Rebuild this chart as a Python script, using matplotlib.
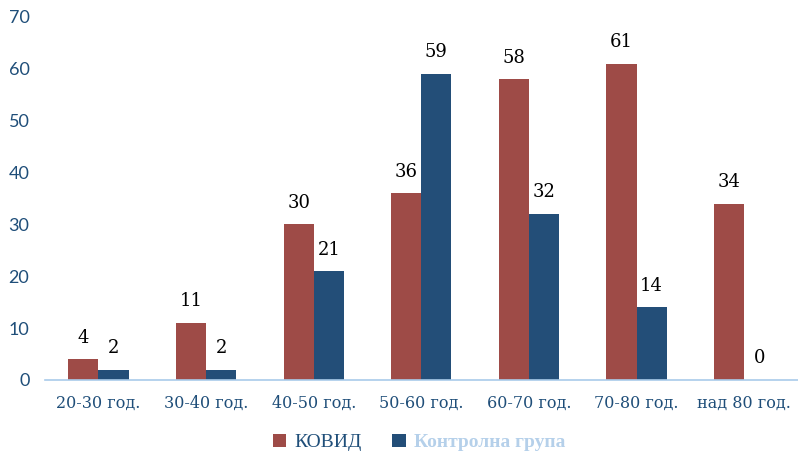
import matplotlib.pyplot as plt
import numpy as np

categories = ['20-30 год.', '30-40 год.', '40-50 год.', '50-60 год.',
              '60-70 год.', '70-80 год.', 'над 80 год.']
covid = [4, 11, 30, 36, 58, 61, 34]
control = [2, 2, 21, 59, 32, 14, 0]
series_names = ['КОВИД', 'Контролна група']

red = '#9E4B47'
blue = '#234E78'
tick_col = '#1F4E79'

fig = plt.figure(figsize=(7.98, 4.55), dpi=100)
ax = fig.add_axes([0.056, 0.165, 0.944, 0.798])

x = np.arange(len(categories))
w = 0.28
b1 = ax.bar(x - w / 2, covid, w, color=red, label=series_names[0])
b2 = ax.bar(x + w / 2, control, w, color=blue, label=series_names[1])

for bars, vals in [(b1, covid), (b2, control)]:
    for r, v in zip(bars, vals):
        ax.text(r.get_x() + r.get_width() / 2, v + 2.4, str(v), ha='center',
                va='bottom', fontsize=13, family='DejaVu Serif', color='black')

ax.set_xlim(-0.5, len(categories) - 0.5)
ax.set_ylim(0, 70)
ax.set_yticks(range(0, 71, 10))
ax.set_xticks(x)
ax.set_xticklabels(categories, family='DejaVu Serif', fontsize=11.5, color=tick_col)
for t in ax.get_yticklabels():
    t.set_family('Lato')
ax.tick_params(axis='y', labelsize=13, colors=tick_col, length=0, pad=11)
ax.tick_params(axis='x', length=0, pad=11)
for s in ['top', 'right', 'left']:
    ax.spines[s].set_visible(False)
ax.spines['bottom'].set_color('#A9CBEA')
ax.spines['bottom'].set_linewidth(1.2)

leg = fig.legend(loc='lower center', ncol=2, frameon=False, handlelength=0.7,
                 handleheight=0.7, columnspacing=1.6, handletextpad=0.4,
                 bbox_to_anchor=(0.525, -0.03),
                 prop={'family': 'Liberation Serif', 'size': 14})
texts = leg.get_texts()
texts[0].set_color(tick_col)
texts[1].set_color('#B5D0EA')
texts[1].set_fontweight('bold')

fig.savefig('out.png', dpi=100)
